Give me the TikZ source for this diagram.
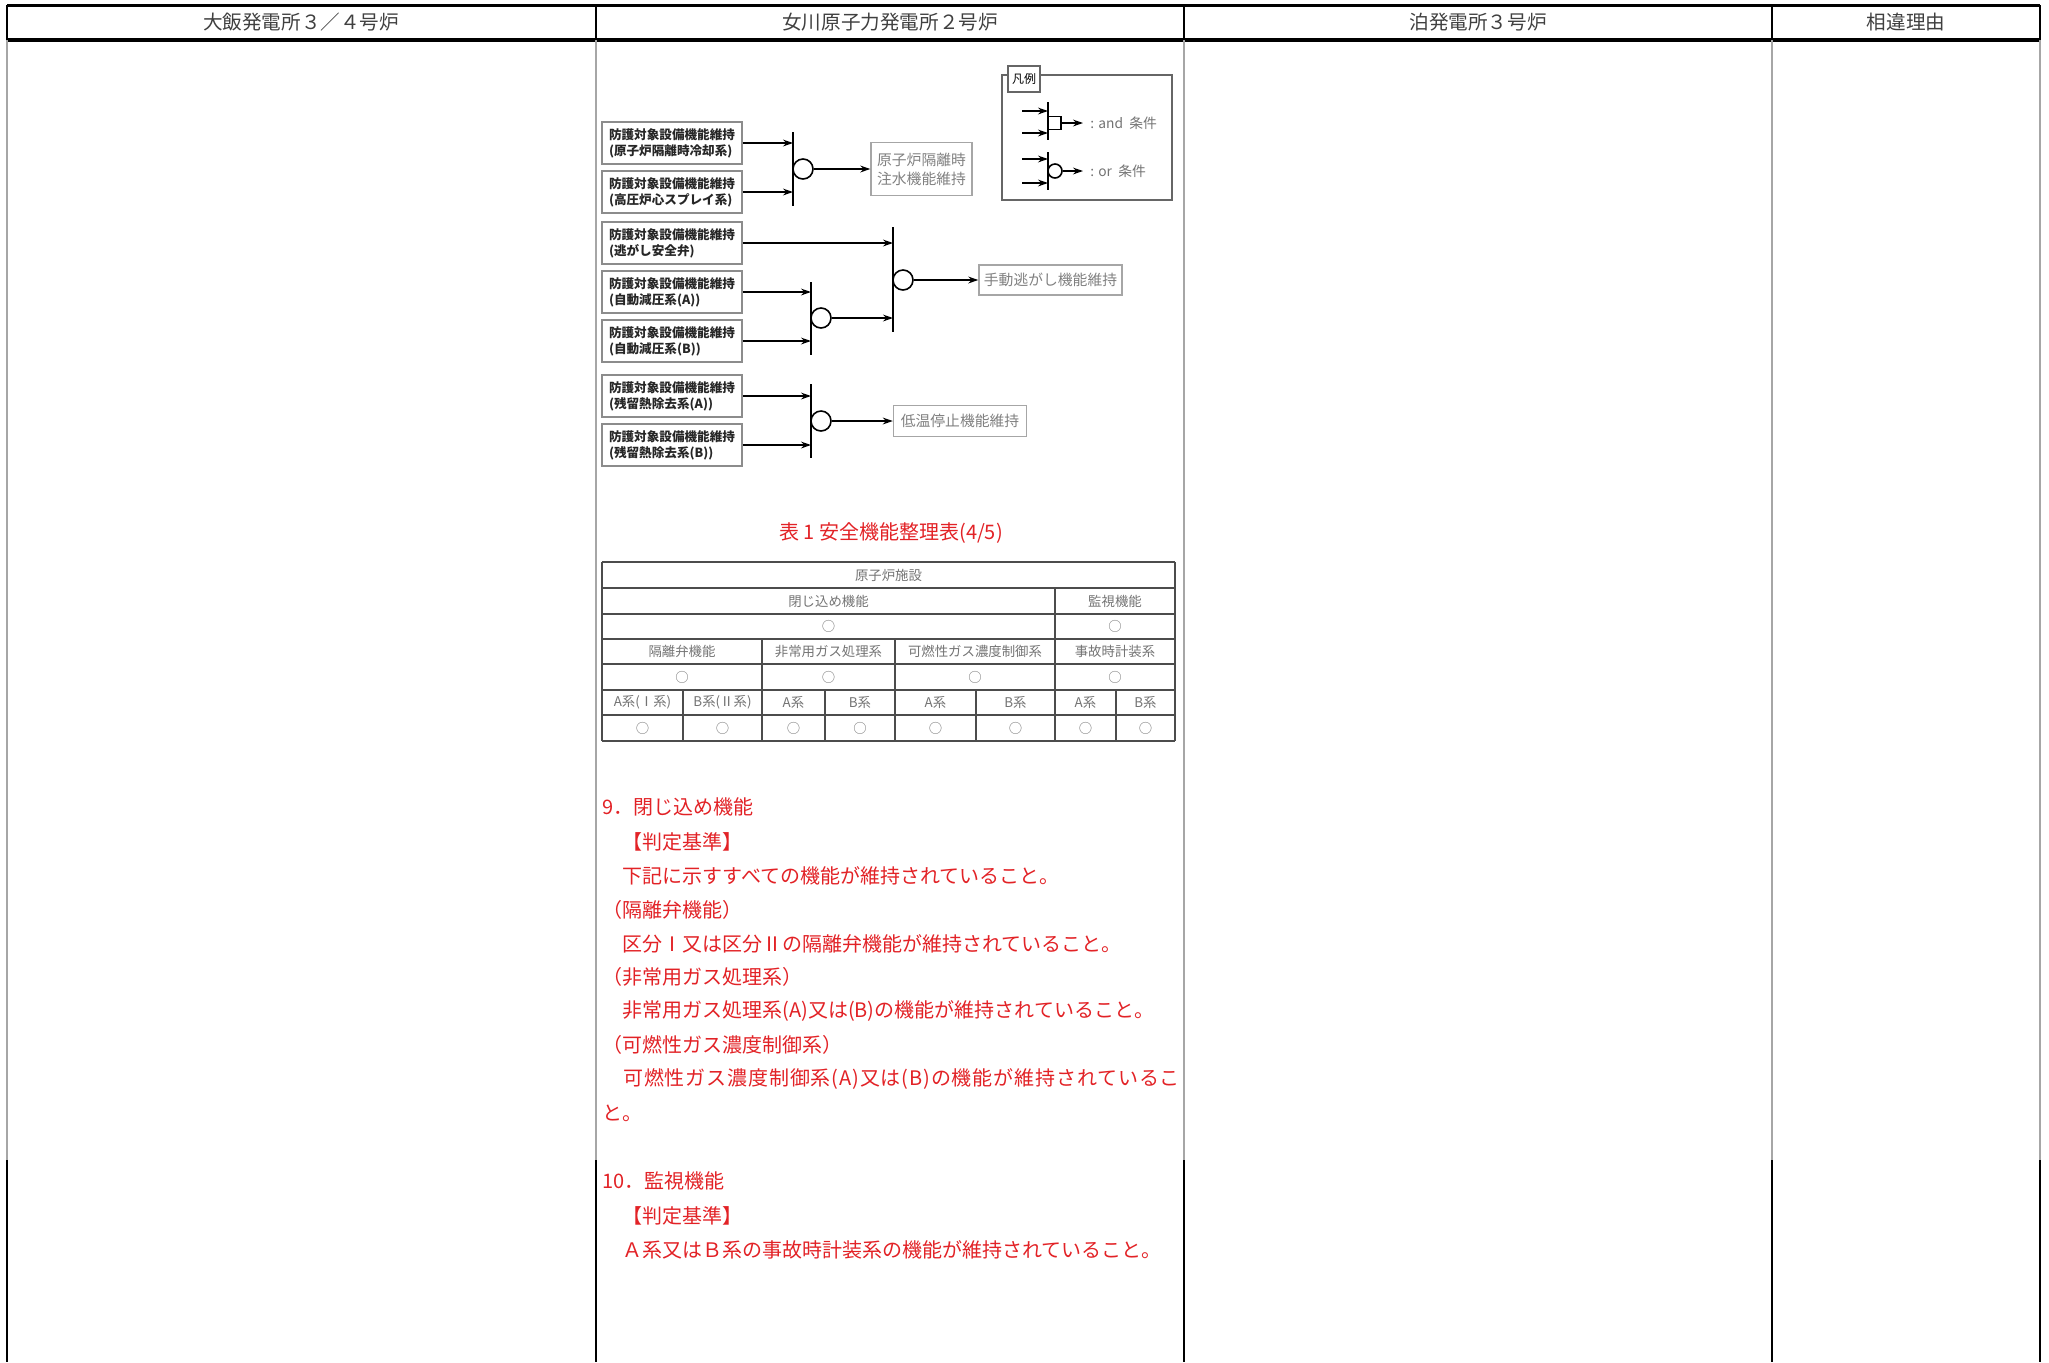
\documentclass[tikz,border=0pt]{standalone}
\usepackage{fontspec}
\setmainfont{Noto Sans CJK JP}
\newfontfamily\widejp{Noto Sans CJK JP}[LetterSpace=4.3]
\usetikzlibrary{arrows.meta}
\definecolor{notered}{RGB}{226,34,38}

\tikzset{
  head/.style={font=\fontsize{9.8}{12}\selectfont, text=black!75},
  srcbox/.style={draw=black!45, line width=0.8pt, minimum width=70pt, minimum height=21pt,
    inner xsep=2.5pt, inner ysep=1pt, align=left, font=\fontsize{6.3}{8}\selectfont\bfseries, text=black!85},
  outbox/.style={draw=black!35, line width=0.7pt, inner sep=1pt, align=center,
    font=\fontsize{7.4}{9.6}\selectfont, text=black!50},
  bar/.style={line width=1pt},
  orgate/.style={circle, draw, line width=0.8pt, minimum size=10pt, inner sep=0pt},
  andgate/.style={rectangle, draw, line width=0.7pt, minimum size=6.5pt, inner sep=0pt},
  flow/.style={-{Stealth[length=5pt,width=3.4pt]}, line width=0.8pt},
  keytext/.style={anchor=west, inner sep=0pt, font=\fontsize{6.9}{8}\selectfont, text=black!55},
  tabline/.style={draw=black!70, line width=0.6pt},
  cell/.style={inner sep=0pt, font=\fontsize{6.7}{8}\selectfont, text=black!55},
  note/.style={anchor=west, inner sep=0pt, font=\fontsize{10}{12}\selectfont, text=notered},
}

\begin{document}
\begin{tikzpicture}[x=0.5pt, y=-0.5pt]
  \useasboundingbox (0,0) rectangle (2049,1362);
  %% page frame and column heads
  \draw[line width=1.5pt] (7,5) -- (2040,5);
  \draw[line width=2pt] (7,40) -- (2040,40);
  \foreach \cx in {7,596,1184,1772,2040} {
    \draw[line width=1pt] (\cx,5) -- (\cx,40);
    \draw[gray!70, line width=0.8pt] (\cx,40) -- (\cx,1160);
    \draw[line width=1pt] (\cx,1160) -- (\cx,1362);
  }
  \node[head] (ohi) at (301,22) {大飯発電所３／４号炉};
  \node[head] (onagawa) at (890,22) {女川原子力発電所２号炉};
  \node[head] (tomari) at (1478,22) {泊発電所３号炉};
  \node[head] (reason) at (1906,22) {相違理由};

  %% legend
  \draw[draw=black!60, line width=0.8pt] (1002,75) rectangle (1172,200);
  \node[draw=black!60, line width=0.8pt, fill=white, minimum width=16pt, minimum height=13pt,
    inner sep=0pt, font=\fontsize{6}{7}\selectfont] (key) at (1024,79) {凡例};
  \coordinate (andt) at (1048,102); \coordinate (andb) at (1048,140);
  \coordinate (andi1) at (1022,111); \coordinate (andi2) at (1022,133);
  \draw[bar] (andt) -- (andb);
  \draw[flow] (andi1) -- (andi1 -| andt);
  \draw[flow] (andi2) -- (andi2 -| andt);
  \node[andgate] (andbox) at (1054.5,123) {};
  \coordinate (ando) at (1083,123);
  \draw[flow] (andbox.east) -- (ando);
  \node[keytext] (andtxt) at (1090,123) {: and\ \ 条件};
  \coordinate (ort) at (1048,152); \coordinate (orb) at (1048,190);
  \coordinate (ori1) at (1022,159); \coordinate (ori2) at (1022,183);
  \draw[bar] (ort) -- (orb);
  \draw[flow] (ori1) -- (ori1 -| ort);
  \draw[flow] (ori2) -- (ori2 -| ort);
  \node[orgate, minimum size=7pt] (orkey) at (1055,171) {};
  \coordinate (oro) at (1083,171);
  \draw[flow] (orkey.east) -- (oro);
  \node[keytext] (ortxt) at (1090,171) {: or\ \ 条件};

  %% protected equipment boxes
  \node[srcbox] (rcic) at (672,143) {防護対象設備機能維持\\(原子炉隔離時冷却系)};
  \node[srcbox] (hpcs) at (672,192) {防護対象設備機能維持\\(高圧炉心スプレイ系)};
  \node[srcbox] (srv) at (672,243) {防護対象設備機能維持\\(逃がし安全弁)};
  \node[srcbox] (adsa) at (672,292) {防護対象設備機能維持\\(自動減圧系(A))};
  \node[srcbox] (adsb) at (672,341) {防護対象設備機能維持\\(自動減圧系(B))};
  \node[srcbox] (rhra) at (672,396) {防護対象設備機能維持\\(残留熱除去系(A))};
  \node[srcbox] (rhrb) at (672,445) {防護対象設備機能維持\\(残留熱除去系(B))};

  %% injection at isolation
  \coordinate (bar1t) at (793,132); \coordinate (bar1b) at (793,206);
  \draw[bar] (bar1t) -- (bar1b);
  \draw[flow] (rcic.east) -- (rcic.east -| bar1t);
  \draw[flow] (hpcs.east) -- (hpcs.east -| bar1t);
  \node[orgate] (or1) at (803,169) {};
  \node[outbox, minimum width=50.5pt, minimum height=26.5pt] (inj) at (921.5,169) {原子炉隔離時\\注水機能維持};
  \draw[flow] (or1.east) -- (inj.west);

  %% manual relief
  \coordinate (bar3t) at (811,282); \coordinate (bar3b) at (811,355);
  \draw[bar] (bar3t) -- (bar3b);
  \draw[flow] (adsa.east) -- (adsa.east -| bar3t);
  \draw[flow] (adsb.east) -- (adsb.east -| bar3t);
  \node[orgate] (or3) at (821,318) {};
  \coordinate (bar2t) at (893,227); \coordinate (bar2b) at (893,332);
  \draw[bar] (bar2t) -- (bar2b);
  \draw[flow] (srv.east) -- (srv.east -| bar2t);
  \draw[flow] (or3.east) -- (or3.east -| bar2t);
  \node[orgate] (or2) at (903,280) {};
  \node[outbox, minimum width=71.5pt, minimum height=15pt] (relief) at (1050.5,280) {手動逃がし機能維持};
  \draw[flow] (or2.east) -- (relief.west);

  %% cold shutdown
  \coordinate (bar4t) at (811,384); \coordinate (bar4b) at (811,458);
  \draw[bar] (bar4t) -- (bar4b);
  \draw[flow] (rhra.east) -- (rhra.east -| bar4t);
  \draw[flow] (rhrb.east) -- (rhrb.east -| bar4t);
  \node[orgate] (or4) at (821,421) {};
  \node[outbox, minimum width=66.5pt, minimum height=15.5pt] (cold) at (960,421) {低温停止機能維持};
  \draw[flow] (or4.east) -- (cold.west);

  %% table 1
  \node[note, anchor=center] (tabcap) at (891,533) {表 1 安全機能整理表(4/5)};
  \begin{scope}[tabline]
    \foreach \ry in {562,588,614,639,664,690,715}
      \draw (602,\ry) -- (1175,\ry);
    \draw[line width=1.2pt] (602,741) -- (1175,741);
    \draw (602,562) -- (602,741);
    \draw (1175,562) -- (1175,741);
    \draw (1055,588) -- (1055,741);
    \foreach \cx in {762,895}
      \draw (\cx,639) -- (\cx,741);
    \foreach \cx in {683,825,976,1116}
      \draw (\cx,690) -- (\cx,741);
  \end{scope}
  \node[cell] (fac) at (888.5,575) {原子炉施設};
  \node[cell] (conf) at (828.5,601) {閉じ込め機能};
  \node[cell] (mon) at (1115,601) {監視機能};
  \node[cell] (conf-o) at (828.5,626.5) {○};
  \node[cell] (mon-o) at (1115,626.5) {○};
  \node[cell] (iso) at (682,651.5) {隔離弁機能};
  \node[cell] (sgts) at (828.5,651.5) {非常用ガス処理系};
  \node[cell] (fcs) at (975,651.5) {可燃性ガス濃度制御系};
  \node[cell] (pam) at (1115,651.5) {事故時計装系};
  \foreach \cx [count=\i] in {682,828.5,975,1115}
    \node[cell] (sys-\i) at (\cx,677) {○};
  \foreach \cx/\lbl [count=\i] in {642.5/A系(Ⅰ系), 722.5/B系(Ⅱ系), 793.5/A系, 860/B系,
      935.5/A系, 1015.5/B系, 1085.5/A系, 1145.5/B系} {
    \node[cell] (tr-\i) at (\cx,702.5) {\lbl};
    \node[cell] (tr-\i-o) at (\cx,728) {○};
  }

  %% criteria text
  \node[note] (s9) at (602,807) {9．閉じ込め機能};
  \node[note] (s9c) at (602,842) {　【判定基準】};
  \node[note] (s9l1) at (602,876) {　下記に示すすべての機能が維持されていること。};
  \node[note] (s9h1) at (602,910) {（隔離弁機能）};
  \node[note] (s9l2) at (602,944) {　区分Ⅰ又は区分Ⅱの隔離弁機能が維持されていること。};
  \node[note] (s9h2) at (602,977) {（非常用ガス処理系）};
  \node[note] (s9l3) at (602,1011) {　非常用ガス処理系(A)又は(B)の機能が維持されていること。};
  \node[note] (s9h3) at (602,1045) {（可燃性ガス濃度制御系）};
  \node[note] (s9l4) at (602,1079) {\widejp　可燃性ガス濃度制御系(A)又は(B)の機能が維持されているこ};
  \node[note] (s9l5) at (602,1113) {と。};
  \node[note] (s10) at (602,1181) {10．監視機能};
  \node[note] (s10c) at (602,1216) {　【判定基準】};
  \node[note] (s10l1) at (602,1250) {　Ａ系又はＢ系の事故時計装系の機能が維持されていること。};
\end{tikzpicture}
\end{document}
